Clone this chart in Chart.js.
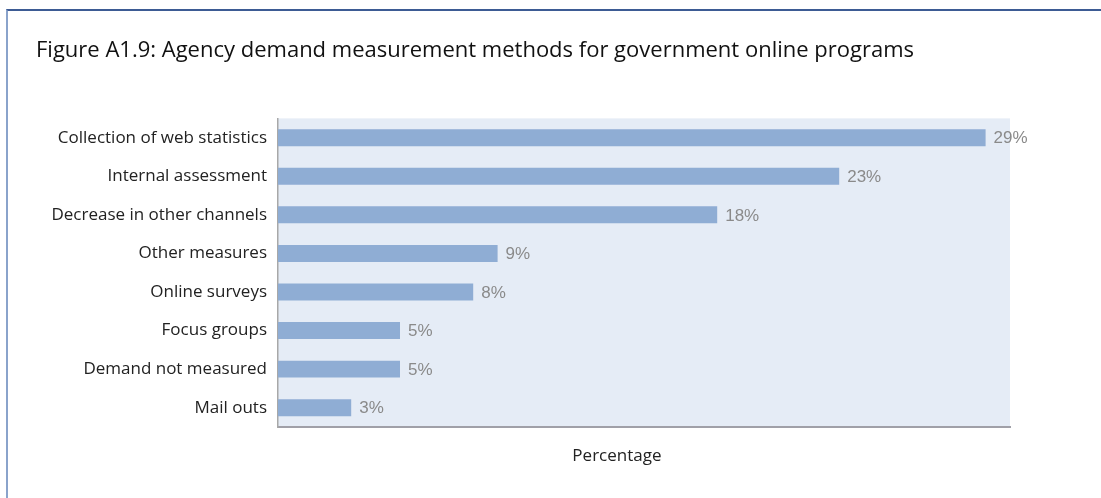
<!DOCTYPE html>
<html>
<head>
<meta charset="utf-8">
<script src="https://cdn.jsdelivr.net/npm/chart.js@4"></script>
<style>
  body { margin: 0; background: #fff; }
  #frame {
    position: absolute; left: 6px; top: 9px; right: 0; bottom: 0;
    border-top: 2px solid #3d5b94;
    border-left: 2px solid #8aa3cb;
  }
  #wrap { position: absolute; left: 0; top: 0; width: 1101px; height: 498px; }
</style>
</head>
<body>
<div id="frame"></div>
<div id="wrap"><canvas id="myChart" width="1101" height="498"></canvas></div>
<script>
var methods = [
  "Collection of web statistics",
  "Internal assessment",
  "Decrease in other channels",
  "Other measures",
  "Online surveys",
  "Focus groups",
  "Demand not measured",
  "Mail outs"
];
var shares = [29, 23, 18, 9, 8, 5, 5, 3];
var axisName = "Percentage";
var barColor = "#8fadd4";
var areaColor = "#e5ecf6";

// light blue panel behind the bars
var panelBg = {
  id: "panelBg",
  beforeDraw: function (chart) {
    var a = chart.chartArea;
    var ctx = chart.ctx;
    ctx.save();
    ctx.fillStyle = areaColor;
    ctx.fillRect(a.left, a.top, a.right - a.left, a.bottom - a.top);
    ctx.restore();
  }
};

// percentage text next to each bar, plus the axis name under the panel
var barLabels = {
  id: "barLabels",
  afterDatasetsDraw: function (chart) {
    var ctx = chart.ctx;
    var a = chart.chartArea;
    var meta = chart.getDatasetMeta(0);
    ctx.save();
    ctx.font = "17px 'Liberation Sans', sans-serif";
    ctx.fillStyle = "#8a8a8a";
    ctx.textAlign = "left";
    ctx.textBaseline = "middle";
    meta.data.forEach(function (bar, i) {
      ctx.fillText(shares[i] + "%", bar.x + 8, bar.y + 1);
    });
    ctx.font = "17px 'Open Sans', sans-serif";
    ctx.fillStyle = "#222";
    ctx.textAlign = "center";
    ctx.fillText(axisName, a.left + (a.right - a.left) * 0.463, a.bottom + 29);
    ctx.restore();
  }
};

new Chart("myChart", {
  type: "bar",
  data: {
    labels: methods,
    datasets: [
      {
        data: shares,
        backgroundColor: barColor,
        borderWidth: 0,
        barPercentage: 0.88,
        categoryPercentage: 0.5
      }
    ]
  },
  plugins: [panelBg, barLabels],
  options: {
    indexAxis: "y",
    responsive: false,
    animation: false,
    layout: { padding: { left: 36, right: 91, top: 0, bottom: 63 } },
    plugins: {
      legend: { display: false },
      tooltip: { enabled: false },
      title: {
        display: true,
        text: "Figure A1.9: Agency demand measurement methods for government online programs",
        align: "start",
        color: "#111",
        font: { family: "'Open Sans', sans-serif", size: 22, weight: "normal" },
        padding: { top: 38, bottom: 54 }
      }
    },
    scales: {
      x: {
        min: 0,
        max: 30,
        grid: { display: false },
        ticks: { display: false },
        border: { display: true, color: "#a0a0a8", width: 2 }
      },
      y: {
        grid: { display: false },
        border: { display: true, color: "#a8a8a8", width: 1.5 },
        ticks: {
          color: "#222",
          padding: 3,
          font: { family: "'Open Sans', sans-serif", size: 17 }
        },
        afterFit: function (scale) {
          scale.width = 242;
        }
      }
    }
  }
});
</script>
</body>
</html>
